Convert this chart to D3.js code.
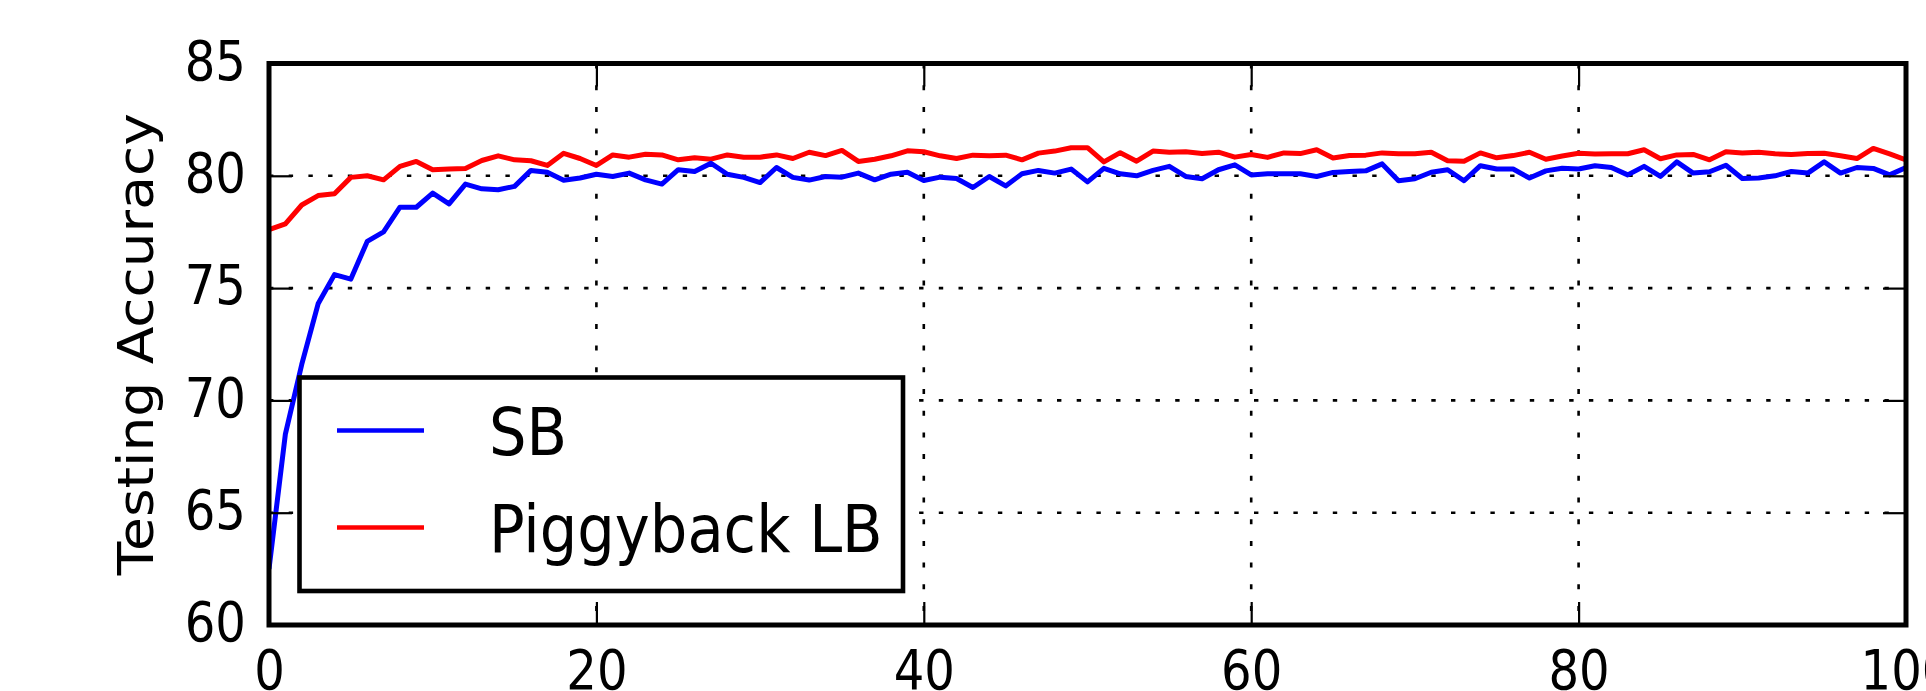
<!DOCTYPE html>
<html>
<head>
    <title>Testing accuracy</title>
    <script src="https://d3js.org/d3.v7.min.js"></script>
    <style>
        body { margin: 0; background: #fff; }
        svg { display: block; }
        text { font-family: "DejaVu Sans", sans-serif; fill: #000; }
    </style>
</head>
<body>
<svg id="chart" width="1926" height="691"></svg>
<script>
    // epochs 0..100, one reading per epoch
    const epochs = d3.range(0, 101);
    const sbAcc = [
        62.5, 68.5, 71.6, 74.3, 75.6, 75.4, 77.08, 77.5, 78.6, 78.6,
        79.23, 78.75, 79.63, 79.42, 79.38, 79.53, 80.24, 80.16, 79.8, 79.9,
        80.07, 79.97, 80.12, 79.82, 79.63, 80.27, 80.19, 80.56, 80.07, 79.93,
        79.7, 80.37, 79.93, 79.81, 79.97, 79.94, 80.12, 79.82, 80.07, 80.16,
        79.79, 79.94, 79.88, 79.48, 79.97, 79.55, 80.09, 80.24, 80.12, 80.3,
        79.73, 80.33, 80.09, 80.0, 80.24, 80.42, 79.97, 79.87, 80.27, 80.49,
        80.04, 80.09, 80.09, 80.09, 79.97, 80.15, 80.19, 80.22, 80.53, 79.78,
        79.87, 80.16, 80.27, 79.78, 80.45, 80.3, 80.3, 79.9, 80.22, 80.34,
        80.3, 80.45, 80.37, 80.04, 80.42, 79.97, 80.62, 80.12, 80.18, 80.47,
        79.88, 79.9, 80.0, 80.19, 80.12, 80.62, 80.12, 80.37, 80.33, 80.04,
        80.37
    ];
    const piggyAcc = [
        77.6, 77.86, 78.7, 79.12, 79.2, 79.93, 80.0, 79.82, 80.42, 80.64,
        80.27, 80.3, 80.33, 80.68, 80.89, 80.71, 80.67, 80.46, 81.0, 80.77,
        80.46, 80.93, 80.83, 80.96, 80.93, 80.71, 80.8, 80.74, 80.93, 80.83,
        80.83, 80.93, 80.77, 81.05, 80.9, 81.13, 80.64, 80.74, 80.89, 81.11,
        81.07, 80.89, 80.77, 80.92, 80.89, 80.92, 80.71, 81.01, 81.1, 81.25,
        81.25, 80.62, 81.03, 80.65, 81.1, 81.05, 81.07, 80.99, 81.05, 80.83,
        80.95, 80.82, 81.02, 80.99, 81.16, 80.79, 80.9, 80.92, 81.02, 80.98,
        80.98, 81.05, 80.67, 80.65, 81.02, 80.8, 80.9, 81.05, 80.74, 80.88,
        81.0, 80.97, 80.98, 80.98, 81.16, 80.76, 80.93, 80.95, 80.71, 81.07,
        81.02, 81.05, 80.98, 80.95, 80.99, 81.0, 80.89, 80.77, 81.22, 80.98,
        80.71
    ];
    const seriesNames = ["SB", "Piggyback LB"];
    const xTicks = [0, 20, 40, 60, 80, 100];
    const yTicks = [60, 65, 70, 75, 80, 85];
    const yLabel = "Testing Accuracy";

    const svg = d3.select("#chart");
    const pLeft = 269, pRight = 1906, pTop = 63.5, pBottom = 625;

    const x = d3.scaleLinear().domain([0, 100]).range([pLeft, pRight]);
    const y = d3.scaleLinear().domain([60, 85]).range([pBottom, pTop]);

    // dotted grid
    const grid = svg.append("g").attr("stroke", "#000").attr("stroke-width", 2.6);
    grid.selectAll(".gx").data(xTicks).join("line")
        .attr("class", "gx")
        .attr("x1", d => x(d)).attr("x2", d => x(d))
        .attr("y1", pTop).attr("y2", pBottom)
        .attr("stroke-dasharray", "5,16.7");
    grid.selectAll(".gy").data(yTicks).join("line")
        .attr("class", "gy")
        .attr("x1", pLeft).attr("x2", pRight)
        .attr("y1", d => y(d)).attr("y2", d => y(d))
        .attr("stroke-dasharray", "4.4,15.3");

    svg.append("clipPath").attr("id", "plotclip")
        .append("rect").attr("x", pLeft).attr("y", pTop)
        .attr("width", pRight - pLeft).attr("height", pBottom - pTop);

    const line = d3.line().x((d, i) => x(epochs[i])).y(d => y(d));
    const plot = svg.append("g").attr("clip-path", "url(#plotclip)");
    plot.append("path").datum(piggyAcc)
        .attr("d", line).attr("fill", "none")
        .attr("stroke", "#ff0000").attr("stroke-width", 5).attr("stroke-linejoin", "round");
    plot.append("path").datum(sbAcc)
        .attr("d", line).attr("fill", "none")
        .attr("stroke", "#0000ff").attr("stroke-width", 5).attr("stroke-linejoin", "round");

    // axes with inward ticks on all four sides
    const tickLen = 23;
    const fixAxis = g => {
        g.select(".domain").remove();
        g.selectAll(".tick line").attr("stroke", "#000").attr("stroke-width", 2.2);
    };

    const gx = svg.append("g").attr("transform", `translate(0,${pBottom})`)
        .call(d3.axisBottom(x).tickValues(xTicks).tickSizeInner(-tickLen).tickSizeOuter(0))
        .call(fixAxis);
    gx.selectAll(".tick text")
        .attr("y", null).attr("dy", null)
        .attr("transform", "translate(0,64) scale(0.86,1)")
        .attr("font-size", 56);

    const gy = svg.append("g").attr("transform", `translate(${pLeft},0)`)
        .call(d3.axisLeft(y).tickValues(yTicks).tickSizeInner(-tickLen).tickSizeOuter(0))
        .call(fixAxis);
    gy.selectAll(".tick text")
        .attr("x", null).attr("dy", null)
        .attr("transform", "translate(-23,15.7) scale(0.86,1)")
        .attr("font-size", 56);

    svg.append("g").attr("transform", `translate(0,${pTop})`)
        .call(d3.axisTop(x).tickValues(xTicks).tickSizeInner(-tickLen).tickSizeOuter(0).tickFormat(""))
        .call(fixAxis);
    svg.append("g").attr("transform", `translate(${pRight},0)`)
        .call(d3.axisRight(y).tickValues(yTicks).tickSizeInner(-tickLen).tickSizeOuter(0).tickFormat(""))
        .call(fixAxis);

    // frame
    svg.append("rect")
        .attr("x", pLeft).attr("y", pTop)
        .attr("width", pRight - pLeft).attr("height", pBottom - pTop)
        .attr("fill", "none").attr("stroke", "#000").attr("stroke-width", 5);

    svg.append("text")
        .attr("transform", `translate(153,${(pTop + pBottom) / 2}) scale(0.91,1) rotate(-90)`)
        .attr("text-anchor", "middle")
        .attr("font-size", 55)
        .text(yLabel);

    // legend
    const legend = svg.append("g").attr("transform", "translate(299.5,377.5)");
    legend.append("rect")
        .attr("width", 603.5).attr("height", 213.5)
        .attr("fill", "#fff").attr("stroke", "#000").attr("stroke-width", 4.6);
    const entry = legend.selectAll(".entry").data(seriesNames).join("g")
        .attr("class", "entry")
        .attr("transform", (d, i) => `translate(0,${53 + i * 97})`);
    entry.append("line")
        .attr("x1", 37.5).attr("x2", 124.5)
        .attr("stroke", (d, i) => i === 0 ? "#0000ff" : "#ff0000")
        .attr("stroke-width", 4.6);
    entry.append("text")
        .attr("transform", "translate(189.5,24.5) scale(0.91,1)")
        .attr("font-size", 65)
        .text(d => d);
</script>
</body>
</html>
